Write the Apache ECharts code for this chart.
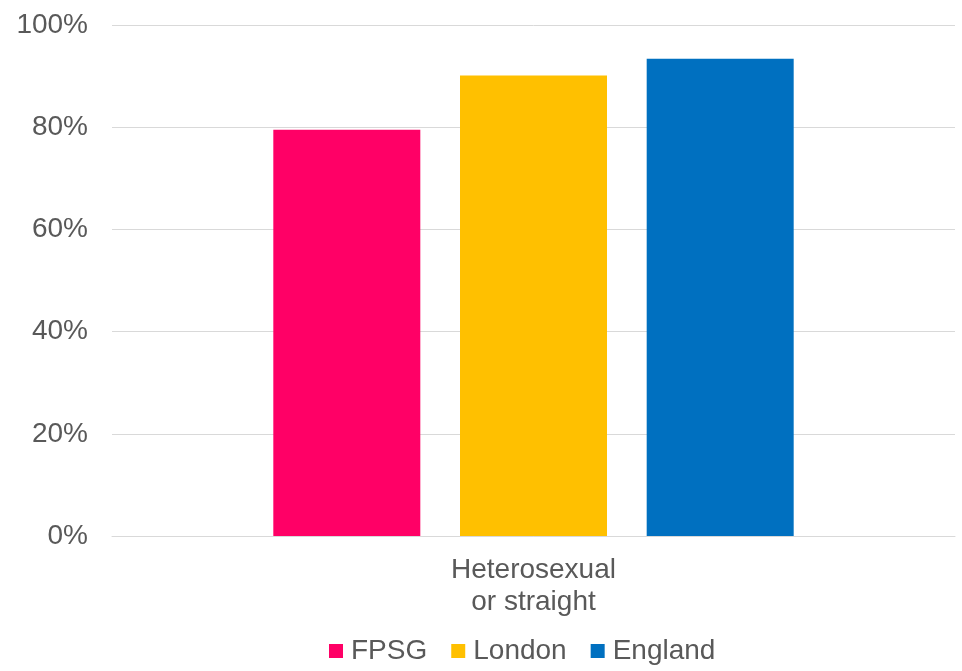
<!DOCTYPE html>
<html>
<head>
<meta charset="utf-8">
<script src="https://cdn.jsdelivr.net/npm/echarts@6/dist/echarts.min.js"></script>
<style>
  html, body { margin: 0; padding: 0; background: #fff; }
  #chart { width: 962px; height: 671px; }
</style>
</head>
<body>
<div id="chart"></div>
<script>
// data
const categories = ["Heterosexual\nor straight"];
const seriesNames = ["FPSG", "London", "England"];
const fpsgValues = [79.5];
const londonValues = [90.1];
const englandValues = [93.4];
const seriesColors = ["#FF0066", "#FFC000", "#0070C0"];

const chart = echarts.init(document.getElementById("chart"));
const seriesValues = [fpsgValues, londonValues, englandValues];

const seriesData = seriesNames.map((name, i) => ({
  name: name,
  type: "bar",
  data: seriesValues[i],
  barWidth: 147,
  barGap: "27%",
  itemStyle: { color: seriesColors[i] },
}));

const textColor = "#595959";
const font = "'Liberation Sans', Arial, sans-serif";

chart.setOption({
  animation: false,
  textStyle: { fontFamily: font },
  grid: { left: 112, right: 7, top: 25, bottom: 135 },
  legend: {
    data: seriesNames,
    top: 632,
    left: 324,
    padding: [5, 5],
    icon: "rect",
    itemWidth: 14,
    itemHeight: 14,
    itemGap: 24,
    textStyle: { color: textColor, fontSize: 28, fontFamily: font, padding: [0, 0, 0, 3] },
  },
  xAxis: {
    type: "category",
    data: categories,
    axisTick: { show: false },
    axisLine: { lineStyle: { color: "#d9d9d9", width: 1 } },
    axisLabel: {
      color: textColor,
      fontSize: 28,
      lineHeight: 32,
      margin: 18,
      fontFamily: font,
    },
  },
  yAxis: {
    type: "value",
    min: 0,
    max: 100,
    interval: 20,
    axisLine: { show: false },
    axisTick: { show: false },
    splitLine: { lineStyle: { color: "#d9d9d9", width: 1 } },
    axisLabel: {
      formatter: "{value}%",
      color: textColor,
      fontSize: 28,
      margin: 24,
      fontFamily: font,
    },
  },
  series: seriesData,
});

window.addEventListener("resize", () => {
  chart.resize();
});
</script>
</body>
</html>
